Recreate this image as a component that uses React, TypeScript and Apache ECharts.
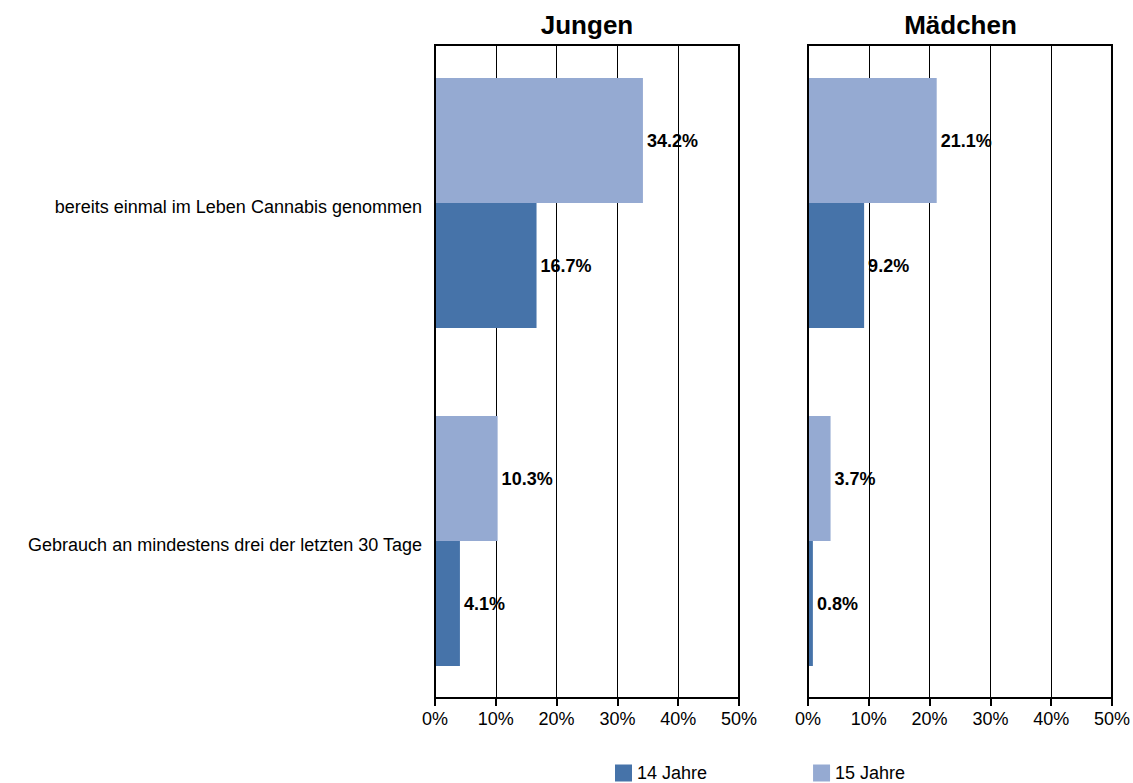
import React, { useEffect, useRef } from "react";
import * as echarts from "echarts";

const categories = [
  "bereits einmal im Leben Cannabis genommen",
  "Gebrauch an mindestens drei der letzten 30 Tage",
];
const seriesNames = ["14 Jahre", "15 Jahre"];
const jungen14 = [16.7, 4.1];
const jungen15 = [34.2, 10.3];
const maedchen14 = [9.2, 0.8];
const maedchen15 = [21.1, 3.7];
const panelTitles = ["Jungen", "Mädchen"];
const axisMax = 50;
const axisStep = 10;

const FONT = "'Liberation Sans', Arial, sans-serif";
const DARK = "#4673A9";
const LIGHT = "#95AAD2";

export default function App() {
  const ref = useRef<HTMLDivElement>(null);
  useEffect(() => {
    if (!ref.current) return;
    const chart = echarts.init(ref.current, null, { renderer: "svg" });
    const panels = [
      { left: 435, width: 304, d14: jungen14, d15: jungen15, showLabels: true },
      { left: 808, width: 305, d14: maedchen14, d15: maedchen15, showLabels: false },
    ];
    const grids: any[] = [];
    const xAxes: any[] = [];
    const yAxes: any[] = [];
    const series: any[] = [];
    const titles: any[] = [];
    panels.forEach((p, i) => {
      const frameIdx = grids.length;
      grids.push({ left: p.left, top: 45, width: p.width, height: 653, show: true, borderColor: "#000", borderWidth: 2 });
      const barIdx = grids.length;
      grids.push({ left: p.left, top: 34, width: p.width, height: 676 });
      xAxes.push({
        type: "value", gridIndex: frameIdx, min: 0, max: axisMax, interval: axisStep,
        axisLine: { show: true, lineStyle: { color: "#000", width: 2 } },
        axisTick: { show: true, length: 8, lineStyle: { color: "#000", width: 2 } },
        axisLabel: { formatter: "{value}%", color: "#000", fontSize: 18, fontFamily: FONT, margin: 12 },
        splitLine: { show: true, lineStyle: { color: "#000", width: 1 } },
      });
      xAxes.push({
        type: "value", gridIndex: barIdx, min: 0, max: axisMax, show: false,
        splitLine: { show: false },
      });
      yAxes.push({
        type: "category", gridIndex: frameIdx, data: categories, z: 5,
        axisLine: { show: true, lineStyle: { color: "#000", width: 2 } },
        axisTick: { show: false }, axisLabel: { show: false }, splitLine: { show: false },
      });
      yAxes.push({
        type: "category", gridIndex: barIdx, data: categories, inverse: true,
        axisLine: { show: false }, axisTick: { show: false }, splitLine: { show: false },
        axisLabel: {
          show: p.showLabels, margin: 13,
          formatter: "{a|{value}}",
          rich: { a: { color: "#000", fontSize: 18, fontFamily: FONT, padding: [8, 0, 0, 0] } },
        },
      });
      const yIdx = yAxes.length - 1;
      const xIdx = xAxes.length - 1;
      const label = {
        show: true, position: "right", distance: 4, color: "#000", fontWeight: "bold",
        fontSize: 18, fontFamily: FONT,
        formatter: (q: any) => Number(q.value).toFixed(1) + "%",
      };
      series.push({
        name: seriesNames[1], type: "bar", xAxisIndex: xIdx, yAxisIndex: yIdx, data: p.d15,
        barWidth: 125, barGap: "0%", itemStyle: { color: LIGHT }, label,
      });
      series.push({
        name: seriesNames[0], type: "bar", xAxisIndex: xIdx, yAxisIndex: yIdx, data: p.d14,
        barWidth: 125, barGap: "0%", itemStyle: { color: DARK }, label,
      });
      titles.push({
        text: panelTitles[i], left: p.left + p.width / 2 - 5, top: 7, textAlign: "center",
        textStyle: { fontSize: 26, fontWeight: "bold", color: "#000", fontFamily: FONT },
      });
    });
    chart.setOption({
      animation: false,
      backgroundColor: "#fff",
      title: titles,
      grid: grids,
      xAxis: xAxes,
      yAxis: yAxes,
      series,
      legend: {
        data: seriesNames, left: 615, top: 764, padding: 0, itemWidth: 17, itemHeight: 17, itemGap: 106,
        icon: "rect", textStyle: { fontSize: 18, fontFamily: FONT, color: "#000" },
      },
    });
    return () => chart.dispose();
  }, []);
  return (
    <div
      ref={ref}
      style={{ position: "fixed", left: 0, top: 0, width: 1133, height: 783, background: "#fff" }}
    />
  );
}
